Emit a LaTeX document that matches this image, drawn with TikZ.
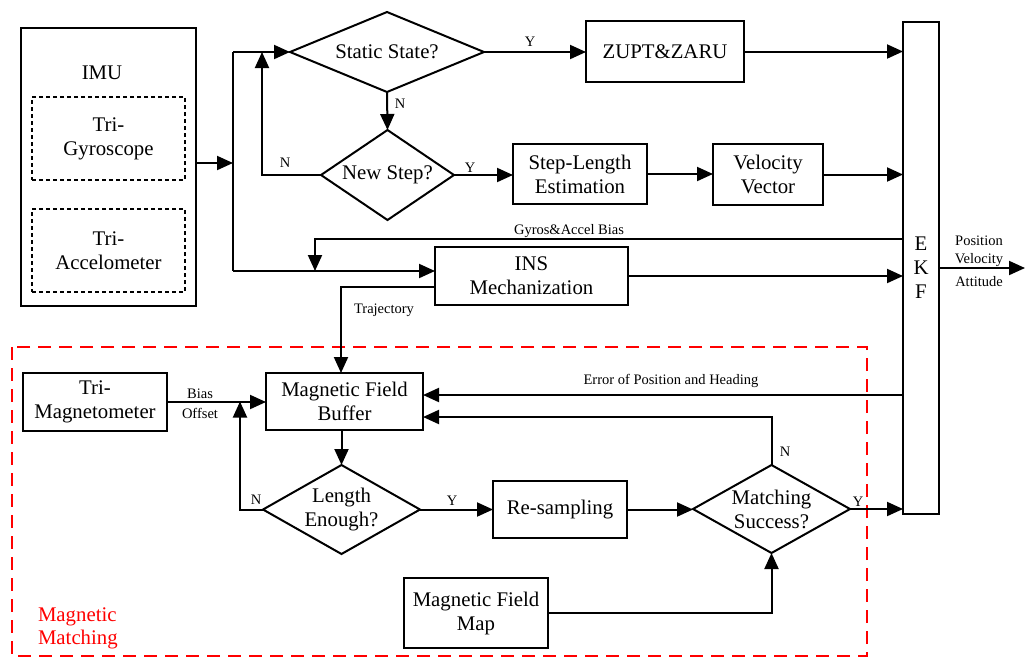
\documentclass[tikz,border=0pt]{standalone}
\usepackage{fontspec}
\setmainfont{Liberation Serif}
\usetikzlibrary{arrows.meta,shapes.geometric}
\begin{document}
\begin{tikzpicture}[x=1pt,y=-1pt,
  line width=2pt,
  box/.style={draw,rectangle,inner sep=0pt,outer sep=0pt,align=center,font=\fontsize{20.8}{24}\selectfont},
  dia/.style={draw,diamond,inner sep=0pt,outer sep=0pt,align=center,font=\fontsize{20.8}{24}\selectfont},
  dotbox/.style={draw,rectangle,dash pattern=on 4pt off 3pt,inner sep=0pt,align=center,font=\fontsize{20.8}{24}\selectfont},
  lbl/.style={inner sep=0pt,font=\fontsize{14.5}{16}\selectfont},
  arr/.style={-{Triangle[length=16pt,width=14pt]}}]
\useasboundingbox (0,0) rectangle (1025,657);
% red group
\draw[red,line width=1.4pt,dash pattern=on 13pt off 8pt] (12,347) rectangle (867,656);
\node[anchor=west,align=left,red,inner sep=0pt,font=\fontsize{20.8}{23}\selectfont] (mmlbl) at (37,628.5) {Magnetic\\Matching};
% IMU
\node[box,minimum width=175pt,minimum height=278pt] (imu) at (108.5,167) {};
\node[inner sep=0pt,font=\fontsize{20.8}{24}\selectfont] (imutxt) at (102,73) {IMU};
\node[dotbox,minimum width=153pt,minimum height=83pt] (gyro) at (108.5,138.5) {Tri-\\Gyroscope};
\node[dotbox,minimum width=153pt,minimum height=83pt] (accel) at (108.5,250.5) {Tri-\\Accelometer};
% decisions and boxes
\node[dia,aspect=2.4,minimum width=194pt,minimum height=80pt] (static) at (387,52) {Static State?};
\node[dia,aspect=1.48,minimum width=133pt,minimum height=90pt] (newstep) at (387.5,175) {New Step?};
\node[box,minimum width=158pt,minimum height=61pt] (zupt) at (665,51.5) {ZUPT\&ZARU};
\node[box,minimum width=134pt,minimum height=60pt] (steplen) at (580,174) {Step-Length\\Estimation};
\node[box,minimum width=110pt,minimum height=61pt] (velvec) at (768,174.5) {Velocity\\Vector};
\node[box,minimum width=193pt,minimum height=58pt] (ins) at (531.5,276) {INS\\Mechanization};
\node[box,minimum width=36pt,minimum height=492pt] (ekf) at (921,268) {E\\K\\F};
\node[box,minimum width=144pt,minimum height=58pt] (trimag) at (95,402) {Tri-\\Magnetometer};
\node[box,minimum width=157pt,minimum height=57pt] (mfb) at (344.5,401.5) {Magnetic Field\\Buffer};
\node[dia,aspect=1.76,minimum width=157pt,minimum height=89pt] (length) at (341.5,509.5) {Length\\Enough?};
\node[box,minimum width=134pt,minimum height=57pt] (resamp) at (560,509.5) {Re-sampling};
\node[dia,aspect=1.78,minimum width=157pt,minimum height=88pt] (match) at (771.5,509) {Matching\\Success?};
\node[box,minimum width=144pt,minimum height=70pt] (map) at (476,613) {Magnetic Field\\Map};
% junction coordinates
\coordinate (jtop) at (233,52);
\coordinate (jmid) at (233,163);
\coordinate (jbot) at (233,271);
\coordinate (nloop) at (262,52);
\coordinate (gb) at (315,239);
\coordinate (tr) at (341,287);
\coordinate (nl) at (240,401.5);
\coordinate (mn) at (771.5,417);
\coordinate (er) at (600,395);
\coordinate (out) at (1025,268);
% connectors top
\draw[arr] (imu.east |- jmid) -- (jmid);
\draw (jtop) -- (jbot);
\draw[arr] (jtop) -- (static.west);
\draw[arr] (jbot) -- (ins.west |- jbot);
\draw[arr] (static.south) -- (newstep.north);
\draw[arr] (newstep.west) -| (nloop);
\draw[arr] (static.east) -- (zupt.west |- static.east);
\draw[arr] (zupt.east) -- (zupt.east -| ekf.west);
\draw[arr] (newstep.east) -- (steplen.west |- newstep.east);
\draw[arr] (steplen.east) -- (velvec.west |- steplen.east);
\draw[arr] (velvec.east) -- (velvec.east -| ekf.west);
\draw[arr] (ekf.west |- gb) -- (gb) -- (gb |- jbot);
\draw[arr] (ins.east) -- (ins.east -| ekf.west);
\draw[arr] (ekf.east) -- (out);
\draw[arr] (ins.west |- tr) -- (tr) -- (tr |- mfb.north);
% connectors bottom
\draw[arr] (trimag.east) -- (mfb.west |- trimag.east);
\draw[arr] (length.north |- mfb.south) -- (length.north);
\draw[arr] (length.west) -| (nl);
\draw[arr] (length.east) -- (resamp.west |- length.east);
\draw[arr] (resamp.east) -- (match.west |- resamp.east);
\draw[arr] (match.north) -- (match.north |- mn) -- (mfb.east |- mn);
\draw[arr] (ekf.west |- er) -- (mfb.east |- er);
\draw[arr] (match.east) -- (match.east -| ekf.west);
\draw[arr] (map.east |- 0,613) -| (match.south);
% labels
\node[lbl] (l1) at (400,104) {N};
\node[lbl] (l2) at (285,163) {N};
\node[lbl] (l3) at (530,42) {Y};
\node[lbl] (l4) at (470,168) {Y};
\node[lbl] (l5) at (569,231) {Gyros\&Accel Bias};
\node[lbl] (l6) at (384,310) {Trajectory};
\node[lbl] (l7) at (979,241) {Position};
\node[lbl] (l8) at (979,260) {Velocity};
\node[lbl] (l9) at (979,282) {Attitude};
\node[lbl] (l10) at (200,394) {Bias};
\node[lbl] (l11) at (200,413) {Offset};
\node[lbl] (l12) at (256,500) {N};
\node[lbl] (l13) at (452,501) {Y};
\node[lbl] (l14) at (671,381) {Error of Position and Heading};
\node[lbl] (l15) at (785,452) {N};
\node[lbl] (l16) at (858,502) {Y};
\end{tikzpicture}
\end{document}
